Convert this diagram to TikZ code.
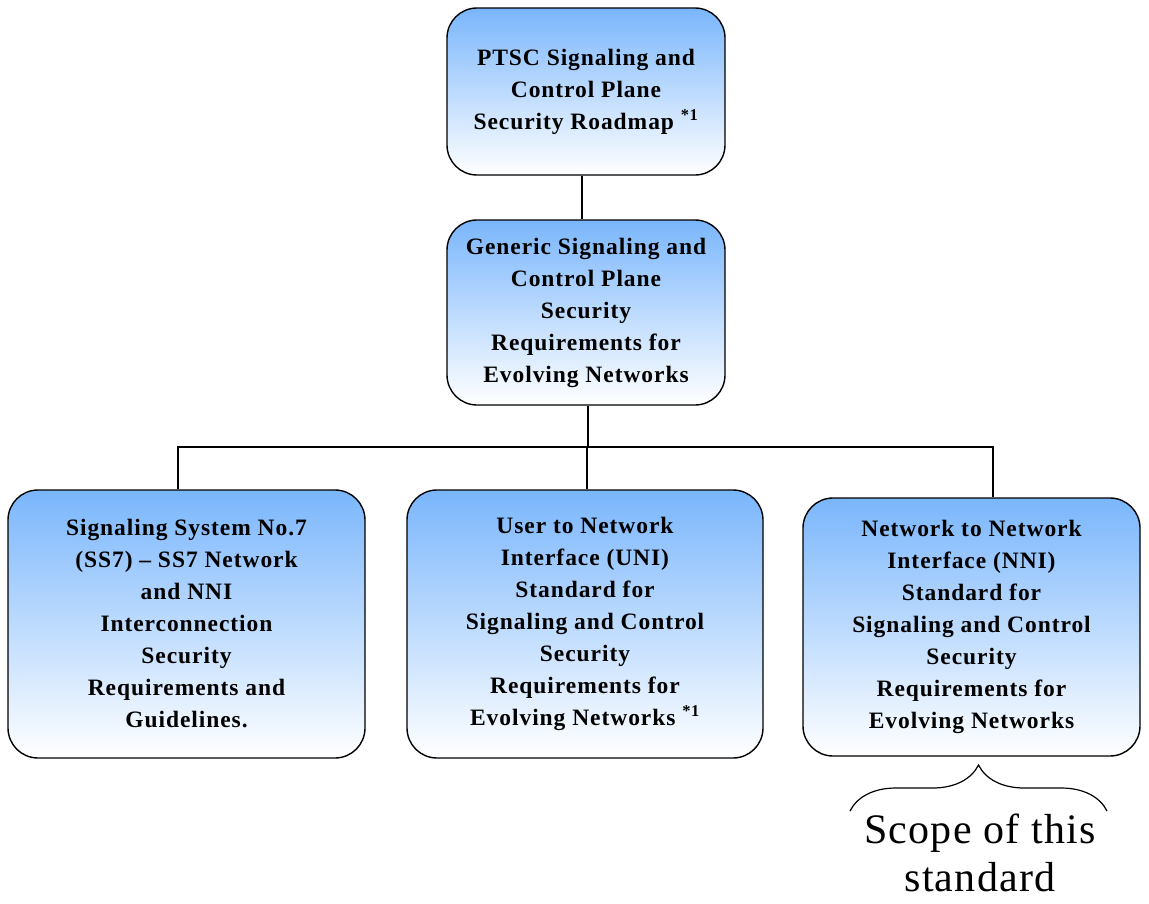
\documentclass[tikz,border=0pt]{standalone}
\usepackage{fontspec}
\setmainfont{Liberation Serif}
\usetikzlibrary{decorations.pathreplacing}
\definecolor{boxblue}{RGB}{122,182,252}
\tikzset{
  box/.style={draw=black, line width=1.4pt, rounded corners=30pt,
    top color=boxblue, bottom color=white, align=center,
    font=\bfseries\fontsize{23.5}{32}\selectfont\addfontfeature{LetterSpace=4}, inner sep=0pt},
  link/.style={draw=black, line width=2.6pt},
}
\begin{document}
\begin{tikzpicture}[x=1pt,y=-1pt]
\useasboundingbox (0,0) rectangle (1149,903);
\node[box, minimum width=278pt, minimum height=167pt] (top) at (586,91.5)
  {PTSC Signaling and\\Control Plane\\Security Roadmap \textsuperscript{*1}};
\node[box, minimum width=278pt, minimum height=185pt] (mid) at (586,312.5)
  {Generic Signaling and\\Control Plane\\Security\\Requirements for\\Evolving Networks};
\node[box, minimum width=357pt, minimum height=268pt] (left) at (186.5,624)
  {Signaling System No.7\\(SS7) -- SS7 Network\\and NNI\\Interconnection\\Security\\Requirements and\\Guidelines.};
\node[box, minimum width=356pt, minimum height=268pt] (midb) at (585,624)
  {User to Network\\Interface (UNI)\\Standard for\\Signaling and Control\\Security\\Requirements for\\Evolving Networks \textsuperscript{*1}};
\node[box, minimum width=337pt, minimum height=258pt] (right) at (971.5,627)
  {Network to Network\\Interface (NNI)\\Standard for\\Signaling and Control\\Security\\Requirements for\\Evolving Networks};
\draw[link] ([xshift=-4pt]top.south) -- ([xshift=-4pt]mid.north);
\coordinate (bus) at (588,447);
\draw[link] ([xshift=2pt]mid.south) -- (bus);
\coordinate (lt) at ([xshift=-8.5pt]left.north);
\coordinate (mt) at ([xshift=2pt]midb.north);
\coordinate (rt) at ([xshift=21.5pt]right.north);
\draw[link] (lt) -- (lt |- bus) -- (rt |- bus) -- (rt);
\draw[link] (mt) -- (mt |- bus);
\coordinate (bl) at (850,811);
\coordinate (br) at (1107,811);
\draw[line width=1.2pt, decorate, decoration={brace, amplitude=46pt, aspect=0.5}] (bl) -- (br);
\node[font=\fontsize{42}{48}\selectfont\addfontfeature{LetterSpace=3}, align=center] (scope) at (980,853) {Scope of this\\standard};
\end{tikzpicture}
\end{document}
